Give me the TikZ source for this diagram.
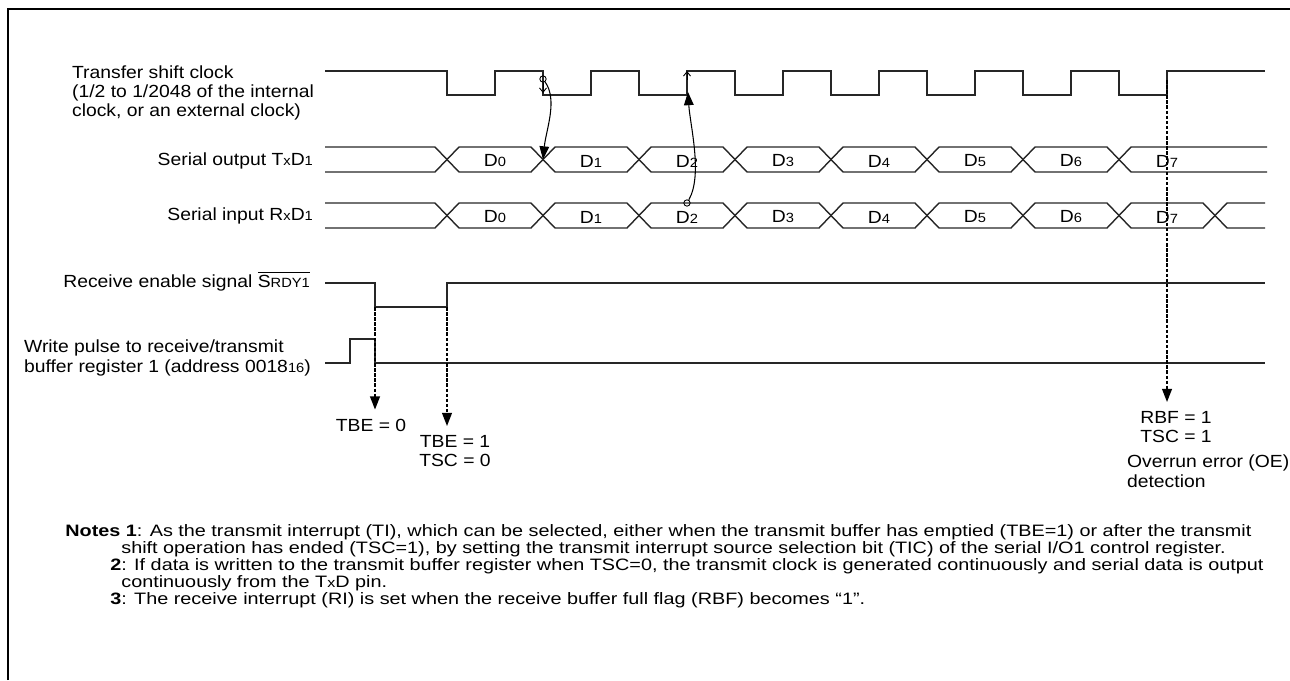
\documentclass[tikz,border=0pt]{standalone}
\usepackage{fontspec}
\setmainfont{Liberation Sans}[FakeStretch=1.1]
\newfontfamily\notesfont{Liberation Sans}[FakeStretch=1.2]
\newcommand{\smallch}[1]{{\fontsize{7.6pt}{7.6pt}\selectfont #1}}
\usetikzlibrary{arrows.meta, positioning, calc}

\begin{document}
\begin{tikzpicture}[x=0.02cm, y=-0.02cm,
    sig/.style={line width=0.8pt, black!85},
    lbl/.style={font=\fontsize{10pt}{11pt}\selectfont, inner sep=1pt},
    notes/.style={font=\notesfont\fontsize{9.4pt}{9.7pt}\selectfont, inner sep=0pt, anchor=west},
    pin/.style={circle, draw, line width=0.5pt, inner sep=0pt, minimum size=3.6pt},
    curvearrow/.style={line width=0.6pt, -{Triangle[length=7.5pt,width=5.5pt]}},
    dasharrow/.style={line width=1.1pt, dash pattern=on 2pt off 0.9pt,
                      -{Triangle[length=7.5pt,width=5.5pt]}, shorten >=4pt}]
    \useasboundingbox (0,0) rectangle (1290,680);
    % frame
    \draw[line width=1.7pt] (8,680) -- (8,9) -- (1290,9);

    % transfer shift clock
    \draw[sig] (325,71) \foreach \k in {0,...,7} { -| (447+96*\k,95) -| (495+96*\k,71) } -- (1265,71);
    \node[lbl, align=left, anchor=west] (clkLbl) at (70,93) {Transfer shift clock\\(1/2 to 1/2048 of the internal\\clock, or an external clock)};

    % serial output
    \draw[sig] (325,147) \foreach \k in {0,...,7} { -- (435+96*\k,147) -- (447+96*\k,159.5) -- (459+96*\k,147) } -- (1267,147);
    \draw[sig] (325,172) \foreach \k in {0,...,7} { -- (435+96*\k,172) -- (447+96*\k,159.5) -- (459+96*\k,172) } -- (1267,172);
    \foreach \k in {0,...,7} \node[lbl] (tx\k) at (495+96*\k,161) {D\smallch{\k}};
    \node[lbl, anchor=east] (txLbl) at (315,161) {Serial output T\smallch{x}D\smallch{1}};

    % serial input
    \draw[sig] (325,203) \foreach \k in {0,...,8} { -- (435+96*\k,203) -- (447+96*\k,215.5) -- (459+96*\k,203) } -- (1265,203);
    \draw[sig] (325,228) \foreach \k in {0,...,8} { -- (435+96*\k,228) -- (447+96*\k,215.5) -- (459+96*\k,228) } -- (1265,228);
    \foreach \k in {0,...,7} \node[lbl] (rx\k) at (495+96*\k,217) {D\smallch{\k}};
    \node[lbl, anchor=east] (rxLbl) at (315,216) {Serial input R\smallch{x}D\smallch{1}};

    % receive enable + write pulse
    \draw[sig] (325,283) -| (375,307) -| (447,283) -- (1265,283);
    \node[lbl, anchor=east] (renLbl) at (312,281) {Receive enable signal $\overline{\hbox{S\smallch{RDY1}}}$};
    \draw[sig] (325,363) -| (350,339) -| (375,363) -- (1265,363);
    \node[lbl, align=left, anchor=west] (wrLbl) at (22,358) {Write pulse to receive/transmit\\buffer register 1 (address 0018\smallch{16})};

    % edge arrows
    \node[pin] (clkTap) at (543,79) {};
    \coordinate (txCross) at (543,159.5);
    \draw[line width=0.5pt, -{Straight Barb[length=2.5pt,width=4pt]}] (clkTap) -- (543,93);
    \draw[curvearrow] (clkTap) .. controls (558,100) and (546,130) .. (txCross);
    \node[pin] (rxTap) at (687,203) {};
    \coordinate (clkRise) at (688,92);
    \draw[line width=0.5pt, -{Straight Barb[length=2.5pt,width=4pt]}] (687,80) -- (687,71);
    \draw[curvearrow] (rxTap) .. controls (703,175) and (690,125) .. (clkRise);

    % flags
    \coordinate (renFall) at (375,307);
    \coordinate (renRise) at (447,307);
    \coordinate (clkLast) at (1167,80);
    \node[lbl] (tbeZero) at (371,425) {TBE = 0};
    \node[lbl, align=center] (tbeOne) at (455,451) {TBE = 1\\TSC = 0};
    \node[lbl, align=center] (rbfLbl) at (1176,427) {RBF = 1\\TSC = 1};
    \node[lbl, align=left, anchor=north west] (oeLbl) at (1125,453) {Overrun error (OE)\\detection};
    \draw[dasharrow] (renFall) -- (renFall |- tbeZero.north);
    \draw[dasharrow] (renRise) -- (renRise |- tbeOne.north);
    \draw[dasharrow] (clkLast) -- (clkLast |- rbfLbl.north);

    % notes
    \node[notes] (note1) at (65,532) {\textbf{Notes 1}: As the transmit interrupt (TI), which can be selected, either when the transmit buffer has emptied (TBE=1) or after the transmit};
    \node[notes] (note1b) at (121,549) {shift operation has ended (TSC=1), by setting the transmit interrupt source selection bit (TIC) of the serial I/O1 control register.};
    \node[notes] (note2) at (110,566) {\textbf{2}: If data is written to the transmit buffer register when TSC=0, the transmit clock is generated continuously and serial data is output};
    \node[notes] (note2b) at (121,583) {continuously from the T\smallch{x}D pin.};
    \node[notes] (note3) at (110,600) {\textbf{3}: The receive interrupt (RI) is set when the receive buffer full flag (RBF) becomes “1”.};
\end{tikzpicture}
\end{document}
